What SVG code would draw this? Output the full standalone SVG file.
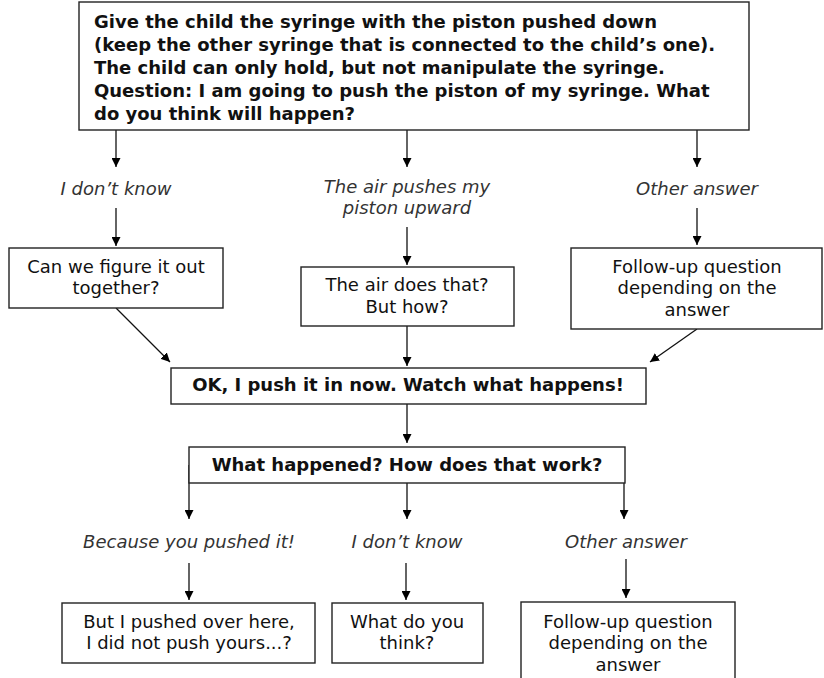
<svg xmlns="http://www.w3.org/2000/svg" width="824" height="678" viewBox="0 0 824 678">
<defs>
<marker id="ah" viewBox="0 0 10 10" refX="10" refY="5" markerWidth="9" markerHeight="9" markerUnits="userSpaceOnUse" orient="auto">
<path d="M0,0 L10,5 L0,10 Z" fill="#000"/>
</marker>
<style>
.box{fill:#fff;stroke:#222;stroke-width:1.4}
.t{font-family:"DejaVu Sans",Verdana,sans-serif;font-size:18px;fill:#111;text-anchor:middle}
.b{font-weight:bold;font-size:18px}
.l{text-anchor:start}
.i{font-style:italic;fill:#333}
.c{stroke:#111;stroke-width:1.3;fill:none;marker-end:url(#ah)}
</style>
</defs>
<rect width="824" height="678" fill="#fff"/>
<g id="connectors">
<path class="c" d="M116,130 V167"/>
<path class="c" d="M407,130 V167"/>
<path class="c" d="M697,130 V167"/>
<path class="c" d="M116,208 V246"/>
<path class="c" d="M407,227 V265"/>
<path class="c" d="M697,208 V245"/>
<path class="c" d="M116,308 L170,362"/>
<path class="c" d="M407,326 V366"/>
<path class="c" d="M697,329 L650,362"/>
<path class="c" d="M407,404 V443"/>
<path class="c" d="M189,465 V519"/>
<path class="c" d="M407,483 V519"/>
<path class="c" d="M624,465 V519"/>
<path class="c" d="M189,563 V600"/>
<path class="c" d="M406,563 V600"/>
<path class="c" d="M626,559 V598"/>
</g>
<g id="n-start">
<rect class="box" x="79" y="2" width="670" height="128"/>
<text class="t b l" x="94" y="28">Give the child the syringe with the piston pushed down</text>
<text class="t b l" x="94" y="51">(keep the other syringe that is connected to the child’s one).</text>
<text class="t b l" x="94" y="74">The child can only hold, but not manipulate the syringe.</text>
<text class="t b l" x="94" y="97">Question: I am going to push the piston of my syringe. What</text>
<text class="t b l" x="94" y="120">do you think will happen?</text>
</g>
<g id="l-dontknow1"><text class="t i" x="116" y="195">I don’t know</text></g>
<g id="l-air"><text class="t i" x="407" y="193">The air pushes my</text><text class="t i" x="407" y="214">piston upward</text></g>
<g id="l-other1"><text class="t i" x="697" y="195">Other answer</text></g>
<g id="n-figure">
<rect class="box" x="9" y="248" width="214" height="60"/>
<text class="t" x="116" y="273">Can we figure it out</text>
<text class="t" x="116" y="294">together?</text>
</g>
<g id="n-airhow">
<rect class="box" x="301" y="267" width="213" height="59"/>
<text class="t" x="407" y="291">The air does that?</text>
<text class="t" x="407" y="313">But how?</text>
</g>
<g id="n-follow1">
<rect class="box" x="571" y="248" width="251" height="81"/>
<text class="t" x="697" y="273">Follow-up question</text>
<text class="t" x="697" y="294">depending on the</text>
<text class="t" x="697" y="316">answer</text>
</g>
<g id="n-push">
<rect class="box" x="171" y="368" width="475" height="36"/>
<text class="t b" x="408" y="391">OK, I push it in now. Watch what happens!</text>
</g>
<g id="n-what">
<rect class="box" x="189" y="447" width="436" height="36"/>
<text class="t b" x="407" y="471">What happened? How does that work?</text>
</g>
<g id="l-because"><text class="t i" x="189" y="548">Because you pushed it!</text></g>
<g id="l-dontknow2"><text class="t i" x="407" y="548">I don’t know</text></g>
<g id="l-other2"><text class="t i" x="626" y="548">Other answer</text></g>
<g id="n-pushedhere">
<rect class="box" x="62" y="603" width="253" height="60"/>
<text class="t" x="189" y="628">But I pushed over here,</text>
<text class="t" x="189" y="649">I did not push yours...?</text>
</g>
<g id="n-whatthink">
<rect class="box" x="332" y="603" width="151" height="60"/>
<text class="t" x="407" y="628">What do you</text>
<text class="t" x="407" y="649">think?</text>
</g>
<g id="n-follow2">
<rect class="box" x="521" y="602" width="214" height="90"/>
<text class="t" x="628" y="628">Follow-up question</text>
<text class="t" x="628" y="649">depending on the</text>
<text class="t" x="628" y="671">answer</text>
</g>
</svg>
